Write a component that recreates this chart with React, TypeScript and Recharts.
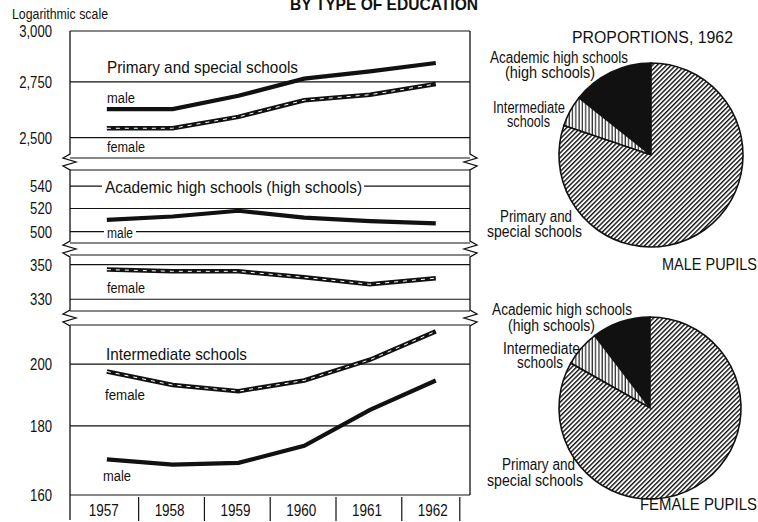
import React from 'react';
import { LineChart, Line, XAxis, YAxis, CartesianGrid, PieChart, Pie, Cell } from 'recharts';

// ── Data: pupils by type of education (log scale, broken axis) ──
const YEARS = [1957, 1958, 1959, 1960, 1961, 1962];
const PRIMARY_MALE = [2625, 2625, 2685, 2765, 2800, 2840];
const PRIMARY_FEMALE = [2540, 2540, 2590, 2665, 2690, 2740];
const ACADEMIC_MALE = [510, 513, 518, 512, 509, 507];
const ACADEMIC_FEMALE = [347, 346, 346, 342.5, 338.5, 342];
const INTERMEDIATE_MALE = [170, 168.5, 169, 174, 185, 194.5];
const INTERMEDIATE_FEMALE = [197.5, 193, 191, 194.5, 201.5, 211.5];

const PRIMARY_TICKS = [2500, 2750, 3000];
const ACADEMIC_MALE_TICKS = [500, 520, 540];
const ACADEMIC_FEMALE_TICKS = [330, 350];
const INTERMEDIATE_TICKS = [160, 180, 200];

// ── Style ──
const INK = '#111';
const FONT = '"Liberation Sans", Arial, sans-serif';
const X_DOMAIN: [number, number] = [1956.44, 1962.52];
const PLOT_LEFT = 70;
const PLOT_RIGHT = 470;
const CHART_W = 480;
const PAD = 10;
const AXIS_H = 28;

const rows = (male?: number[], female?: number[]) =>
    YEARS.map((year, i) => ({ year, male: male ? male[i] : null, female: female ? female[i] : null }));

const PANELS = [
    { id: 'primary', top: 31, bottom: 158, domain: [2414, 3000], ticks: PRIMARY_TICKS, data: rows(PRIMARY_MALE, PRIMARY_FEMALE), male: true, female: true },
    { id: 'academic-m', top: 170, bottom: 243, domain: [490.5, 555], ticks: ACADEMIC_MALE_TICKS, data: rows(ACADEMIC_MALE), male: true, female: false },
    { id: 'academic-f', top: 255, bottom: 311, domain: [323.5, 355.7], ticks: ACADEMIC_FEMALE_TICKS, data: rows(undefined, ACADEMIC_FEMALE), male: false, female: true },
    { id: 'intermediate', top: 325, bottom: 495, domain: [160, 213.8], ticks: INTERMEDIATE_TICKS, data: rows(INTERMEDIATE_MALE, INTERMEDIATE_FEMALE), male: true, female: true, showX: true },
];

const LAST = YEARS.length - 1;
const malePie = [
    { name: 'Academic high schools', value: ACADEMIC_MALE[LAST], fill: INK },
    { name: 'Intermediate schools', value: INTERMEDIATE_MALE[LAST], fill: 'url(#vhatch)' },
    { name: 'Primary and special schools', value: PRIMARY_MALE[LAST], fill: 'url(#dhatch)' },
];
const femalePie = [
    { name: 'Academic high schools', value: ACADEMIC_FEMALE[LAST], fill: INK },
    { name: 'Intermediate schools', value: INTERMEDIATE_FEMALE[LAST], fill: 'url(#vhatch)' },
    { name: 'Primary and special schools', value: PRIMARY_FEMALE[LAST], fill: 'url(#dhatch)' },
];

// condensed look: squeeze text to the width it has in the print
function T({ x, y, size = 16, anchor = 'start', weight = 400, w, children }: any) {
    return (
        <text
            x={x}
            y={y}
            fontFamily={FONT}
            fontSize={size}
            fontWeight={weight}
            textAnchor={anchor}
            fill={INK}
            textLength={w}
            lengthAdjust={w ? 'spacingAndGlyphs' : undefined}
        >
            {children}
        </text>
    );
}

function YTick({ x, y, payload }: any) {
    const s = Number(payload.value).toLocaleString('en-US');
    const digits = s.replace(/,/g, '').length;
    const commas = s.length - digits;
    return (
        <T x={x} y={y + 6} size={17} anchor="end" w={digits * 7.3 + commas * 3.6}>
            {s}
        </T>
    );
}

function YearTick({ x, y, payload }: any) {
    const isLast = payload.value === YEARS[LAST];
    const isFirst = payload.value === YEARS[0];
    return (
        <g>
            {!isFirst && <line x1={x - 34} y1={y + 2} x2={x - 34} y2={y + 26} stroke={INK} strokeWidth={1.2} />}
            {isLast && <line x1={x + 24} y1={y + 2} x2={x + 24} y2={y + 26} stroke={INK} strokeWidth={1.2} />}
            <T x={x - 3} y={y + 21} size={16.5} anchor="middle" w={30}>
                {payload.value}
            </T>
        </g>
    );
}

function Panel({ p }: { p: any }) {
    const h = p.bottom - p.top + PAD + (p.showX ? AXIS_H : PAD);
    return (
        <div style={{ position: 'absolute', left: 0, top: p.top - PAD }}>
            <LineChart
                width={CHART_W}
                height={h}
                data={p.data}
                margin={{ top: PAD, right: CHART_W - PLOT_RIGHT, bottom: p.showX ? 0 : PAD, left: 0 }}
            >
                <CartesianGrid vertical={false} stroke={INK} strokeWidth={1.2} />
                <XAxis
                    dataKey="year"
                    type="number"
                    domain={X_DOMAIN}
                    allowDataOverflow
                    ticks={YEARS}
                    interval={0}
                    hide={!p.showX}
                    height={AXIS_H}
                    axisLine={false}
                    tickLine={false}
                    tickSize={0}
                    tickMargin={0}
                    tick={<YearTick />}
                />
                <YAxis
                    type="number"
                    scale="log"
                    domain={p.domain}
                    allowDataOverflow
                    ticks={p.ticks}
                    interval={0}
                    width={PLOT_LEFT}
                    axisLine={false}
                    tickLine={false}
                    tickSize={0}
                    tickMargin={18}
                    tick={<YTick />}
                />
                {p.male && (
                    <Line dataKey="male" type="linear" stroke={INK} strokeWidth={4.2} dot={false} isAnimationActive={false} />
                )}
                {p.female && (
                    <Line dataKey="female" type="linear" stroke={INK} strokeWidth={4.5} dot={false} isAnimationActive={false} />
                )}
                {p.female && (
                    <Line dataKey="female" type="linear" stroke="#fff" strokeWidth={1} strokeDasharray="4 5" dot={false} isAnimationActive={false} />
                )}
            </LineChart>
        </div>
    );
}

function ProportionPie({ data, cx, cy, r }: { data: any[]; cx: number; cy: number; r: number }) {
    const size = 2 * r + 8;
    return (
        <div style={{ position: 'absolute', left: cx - size / 2, top: cy - size / 2 }}>
            <PieChart width={size} height={size} margin={{ top: 0, right: 0, bottom: 0, left: 0 }}>
                <Pie
                    data={data}
                    dataKey="value"
                    cx="50%"
                    cy="50%"
                    innerRadius={0}
                    outerRadius={r}
                    startAngle={90}
                    endAngle={450}
                    stroke={INK}
                    strokeWidth={1.6}
                    isAnimationActive={false}
                    label={false}
                    labelLine={false}
                >
                    {data.map((d, i) => (
                        <Cell key={i} fill={d.fill} />
                    ))}
                </Pie>
            </PieChart>
        </div>
    );
}

// zigzag break mark on a frame edge
const zig = (x: number, yc: number, dir: number) =>
    `L${x},${yc - 8} L${x - 7 * dir},${yc - 4} L${x + 6 * dir},${yc} L${x - 7 * dir},${yc + 4} L${x},${yc + 8}`;

const BREAKS = [162, 249, 318];

export default function App() {
    const leftFrame = `M${PLOT_LEFT},31 ${BREAKS.map(b => zig(PLOT_LEFT, b, 1)).join(' ')} L${PLOT_LEFT},520`;
    const rightFrame = `M${PLOT_RIGHT},31 ${BREAKS.map(b => zig(PLOT_RIGHT, b, -1)).join(' ')} L${PLOT_RIGHT},495`;
    return (
        <div style={{ position: 'absolute', left: 0, top: 0, width: 758, height: 522, background: '#fff', overflow: 'hidden' }}>
            <svg width={0} height={0} style={{ position: 'absolute' }}>
                <defs>
                    <pattern id="dhatch" patternUnits="userSpaceOnUse" width={3.3} height={3.3} patternTransform="rotate(45)">
                        <rect width={3.3} height={3.3} fill="#fff" />
                        <line x1={0.7} y1={0} x2={0.7} y2={3.3} stroke={INK} strokeWidth={1.4} />
                    </pattern>
                    <pattern id="vhatch" patternUnits="userSpaceOnUse" width={3.3} height={3.3}>
                        <rect width={3.3} height={3.3} fill="#fff" />
                        <line x1={1} y1={0} x2={1} y2={3.3} stroke={INK} strokeWidth={1.1} />
                    </pattern>
                </defs>
            </svg>

            {PANELS.map(p => (
                <Panel key={p.id} p={p} />
            ))}

            <ProportionPie data={malePie} cx={651} cy={155} r={92} />
            <ProportionPie data={femalePie} cx={650} cy={408} r={91} />

            <svg width={758} height={522} style={{ position: 'absolute', left: 0, top: 0, pointerEvents: 'none' }}>
                <path d={leftFrame} fill="none" stroke={INK} strokeWidth={1.3} />
                <path d={rightFrame} fill="none" stroke={INK} strokeWidth={1.3} />

                <T x={290} y={10} size={17} weight={700} w={188}>BY TYPE OF EDUCATION</T>
                <T x={12} y={19} size={14} w={96}>Logarithmic scale</T>

                <T x={107} y={73} size={17} w={191}>Primary and special schools</T>
                <T x={107} y={103} size={15.5} w={28}>male</T>
                <T x={107} y={152} size={15.5} w={38}>female</T>

                <rect x={102} y={177} width={262} height={19} fill="#fff" />
                <T x={105} y={193} size={17} w={257}>Academic high schools (high schools)</T>
                <rect x={104} y={226} width={32} height={14} fill="#fff" />
                <T x={107} y={238} size={15.5} w={26}>male</T>
                <T x={107} y={293} size={15.5} w={38}>female</T>

                <T x={106} y={360} size={17} w={141}>Intermediate schools</T>
                <T x={105} y={400} size={15.5} w={40}>female</T>
                <T x={103} y={481} size={15.5} w={28}>male</T>

                <T x={572} y={43} size={17} w={161}>PROPORTIONS, 1962</T>
                <T x={490} y={63} size={16} w={138}>Academic high schools</T>
                <T x={505} y={78} size={16} w={90}>(high schools)</T>
                <T x={493} y={113} size={16} w={72}>Intermediate</T>
                <T x={507} y={127} size={16} w={43}>schools</T>
                <T x={500} y={222} size={16} w={72}>Primary and</T>
                <T x={487} y={237} size={16} w={95}>special schools</T>
                <T x={662} y={270} size={16.5} w={95}>MALE PUPILS</T>

                <T x={492} y={315} size={16} w={140}>Academic high schools</T>
                <T x={508} y={331} size={16} w={87}>(high schools)</T>
                <T x={503} y={354} size={16} w={77}>Intermediate</T>
                <T x={517} y={368} size={16} w={46}>schools</T>
                <T x={502} y={470} size={16} w={73}>Primary and</T>
                <T x={487} y={486} size={16} w={96}>special schools</T>
                <T x={640} y={510} size={17} w={117}>FEMALE PUPILS</T>
            </svg>
        </div>
    );
}
